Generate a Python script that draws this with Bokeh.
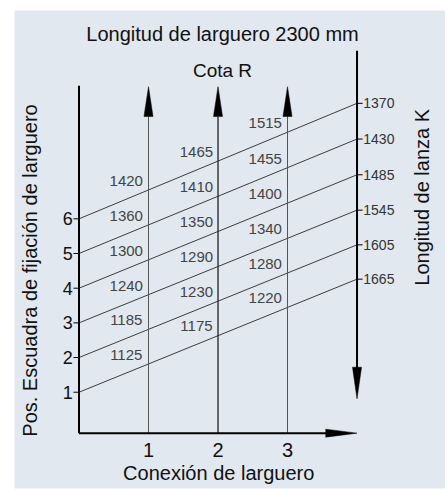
from bokeh.plotting import figure
from bokeh.models import Range1d
from bokeh.core.properties import value
from bokeh.embed import file_html
from bokeh.resources import INLINE

# ---- data ----
pos_levels = [6, 5, 4, 3, 2, 1]                      # Pos. Escuadra (left scale)
k_labels = ["1370", "1430", "1485", "1545", "1605", "1665"]  # Longitud de lanza K
k_level = [9.33, 8.30, 7.27, 6.25, 5.25, 4.26]        # where each line meets the K scale
conexion = [1, 2, 3]                                 # Conexión de larguero
col_x = [0.68, 1.69, 2.68]                           # label column centres
cota_a = ["1420", "1360", "1300", "1240", "1185", "1125"]
cota_b = ["1465", "1410", "1350", "1290", "1230", "1175"]
cota_c = ["1515", "1455", "1400", "1340", "1280", "1220"]
K_AXIS = 4.0

FONT = value("Liberation Sans")
BG = "#e1e8ef"

p = figure(width=445, height=489, output_backend="svg", toolbar_location=None,
           x_axis_type=None, y_axis_type=None,
           x_range=Range1d(-0.928, 5.273), y_range=Range1d(-1.776, 12.007),
           min_border_left=14, min_border_top=10, min_border_right=0, min_border_bottom=1,
           background_fill_color=BG, border_fill_color="white")
p.grid.visible = False
p.outline_line_color = None

def line_at(i, x):
    return pos_levels[i] + (k_level[i] - pos_levels[i]) * x / K_AXIS

# sloped lines
p.multi_line(xs=[[0, K_AXIS] for _ in pos_levels],
             ys=[[pos_levels[i], k_level[i]] for i in range(len(pos_levels))],
             line_color="#111111", line_width=0.8)

# vertical Cota R arrows
y_axis0 = -0.18
tip, base, hw = 9.81, 8.95, 0.065
p.multi_line(xs=[[c, c] for c in conexion], ys=[[y_axis0, base] for _ in conexion],
             line_color=["#555555", "#222222", "#555555"], line_width=[1, 1.3, 1])
p.patches(xs=[[c - hw, c, c + hw] for c in conexion],
          ys=[[base, tip, base] for _ in conexion],
          fill_color="black", line_color="black", line_width=0.5)

# left axis
p.line([0, 0], [y_axis0, 9.84], line_color="black", line_width=2)
# bottom axis with arrow
p.line([0, 3.6], [y_axis0, y_axis0], line_color="black", line_width=2)
p.patch([3.55, K_AXIS, 3.55], [y_axis0 + 0.115, y_axis0, y_axis0 - 0.115],
        fill_color="black", line_color="black", line_width=0.5)
# K axis with downward arrow
p.line([K_AXIS, K_AXIS], [10.85, 1.6], line_color="black", line_width=2)
p.patch([K_AXIS - hw, K_AXIS, K_AXIS + hw], [1.72, 0.81, 1.72],
        fill_color="black", line_color="black", line_width=0.5)

# ticks
p.multi_line(xs=[[-0.08, 0] for _ in pos_levels], ys=[[v, v] for v in pos_levels],
             line_color="black", line_width=1)
p.multi_line(xs=[[K_AXIS, K_AXIS + 0.08] for _ in k_level], ys=[[v, v] for v in k_level],
             line_color="black", line_width=1)

# tick labels
p.text(x=[-0.16] * len(pos_levels), y=pos_levels, text=[str(v) for v in pos_levels],
       text_font=FONT, text_font_size="18px", text_align="center",
       text_baseline="middle", text_color="#111111")
p.text(x=[K_AXIS + 0.09] * len(k_level), y=k_level, text=k_labels,
       text_font=FONT, text_font_size="14px", text_align="left",
       text_baseline="middle", text_color="#333333")
p.text(x=conexion, y=[-0.68] * 3, text=[str(c) for c in conexion],
       text_font=FONT, text_font_size="20px", text_align="center",
       text_baseline="middle", text_color="#111111")

# Cota R cell labels
for cx, labels in zip(col_x, [cota_a, cota_b, cota_c]):
    ys = [line_at(i, cx) + 0.52 for i in range(len(labels))]
    p.text(x=[cx] * len(labels), y=ys, text=labels, text_font=FONT,
           text_font_size="15px", text_align="center", text_baseline="middle",
           text_color="#444444")

# titles
p.text(x=[2.065], y=[11.34], text=["Longitud de larguero 2300 mm"], text_font=FONT,
       text_font_size="20px", text_align="center", text_baseline="middle", text_color="#111111")
p.text(x=[2.065], y=[10.28], text=["Cota R"], text_font=FONT,
       text_font_size="19px", text_align="center", text_baseline="middle", text_color="#111111")
p.text(x=[2.01], y=[-1.34], text=["Conexión de larguero"], text_font=FONT,
       text_font_size="20px", text_align="center", text_baseline="middle", text_color="#111111")
p.text(x=[-0.70], y=[4.51], text=["Pos. Escuadra de fijación de larguero"], text_font=FONT,
       text_font_size="20px", text_align="center", text_baseline="middle",
       angle=1.5708, text_color="#111111")
p.text(x=[4.93], y=[6.62], text=["Longitud de lanza K"], text_font=FONT,
       text_font_size="20px", text_align="center", text_baseline="middle",
       angle=1.5708, text_color="#111111")

open("out.html", "w").write(file_html(p, INLINE))
